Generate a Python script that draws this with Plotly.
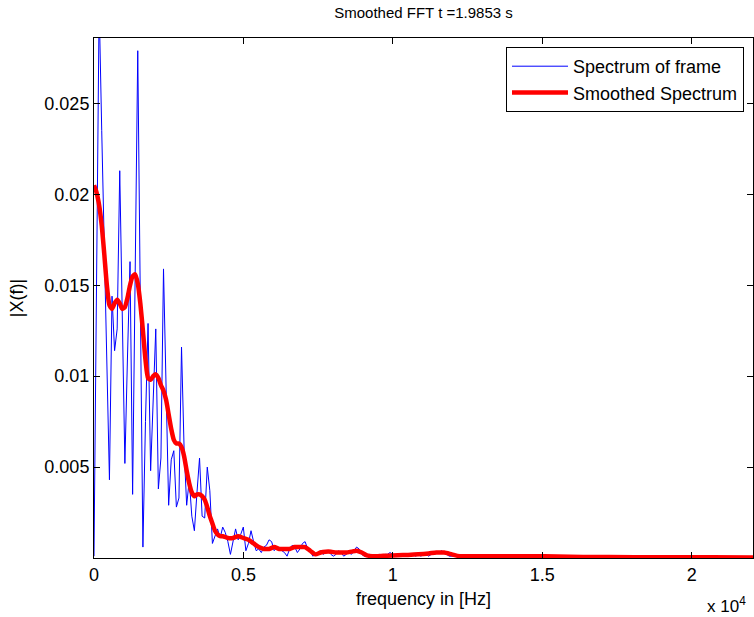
import plotly.graph_objects as go

# ---- data -------------------------------------------------------------
SAMPLE_RATE = 44100
N_FFT = 512

title_text = "Smoothed FFT t =1.9853 s"
series_names = ["Spectrum of frame", "Smoothed Spectrum"]

# |X(f)| of the frame, one value per FFT bin (0 .. 256)
spectrum = [
    0.0001, 0.016, 0.0305, 0.0235, 0.0175, 0.011, 0.0043, 0.0144, 0.0114, 0.0126,
    0.0213, 0.0132, 0.0052, 0.011, 0.0163, 0.0035, 0.0155, 0.0279, 0.014, 0.0006,
    0.0075, 0.0129, 0.0048, 0.009, 0.0126, 0.0038, 0.0055, 0.0159, 0.0085, 0.0029,
    0.0054, 0.0059, 0.0028, 0.0033, 0.0116, 0.006, 0.0029, 0.0043, 0.0023, 0.0015,
    0.0036, 0.0055, 0.0023, 0.0022, 0.005, 0.0037, 0.0008, 0.0012, 0.0016, 0.0011,
    0.0017, 0.0014, 0.0009, 0.0002, 0.0009, 0.0016, 0.001, 0.0013, 0.0017, 0.0004,
    0.0008, 0.0015, 0.0009, 0.0004, 0.0005, 0.0003, 0.0006, 0.0007, 0.001, 0.0009,
    0.0004, 0.0006, 0.0005, 0.0004, 0.0003, 0.0001, 0.0005, 0.0007, 0.0006, 0.0003,
    0.0005, 0.0008, 0.0009, 0.0005, 0.0004, 0.0001, 0.0002, 0.0003, 0.0004, 0.0002,
    0.0003, 0.0004, 0.0002, 0.0001, 0.0002, 0.0004, 0.0003, 0.0001, 0.0002, 0.0003,
    0.0002, 0.0004, 0.0006, 0.0005, 0.0002, 0.0001, 0.0001, 0.0002, 0.0001, 0.0001,
    0.0001, 0.0002, 0.0001, 0.0002, 0.0002, 0.0003, 0.0002, 0.0001, 0.0002, 0.0001,
    0.0002, 0.0001, 0.0002, 0.0001, 0.0002, 0.0001, 0.0002, 0.0001, 0.0002, 0.0002,
    0.0001, 0.0002, 0.0002, 0.0003, 0.0003, 0.0004, 0.0003, 0.0002, 0.0001, 0.0001,
    0.0001, 0.00008, 0.00012, 0.0001, 0.00009, 0.00011, 0.0001, 0.00008, 0.0001, 0.00012,
    0.0001, 0.00009, 0.0001, 0.00011, 0.00008, 0.0001, 0.00009, 0.0001, 0.00008, 0.0001,
    0.00009, 0.0001, 0.00008, 0.00009, 0.0001, 0.00011, 0.0001, 0.00009, 0.00008, 0.0001,
    0.00009, 0.00008, 0.0001, 0.00009, 0.00008, 0.00007, 0.00008, 0.00009, 0.00007, 0.00008,
    0.00007, 0.00008, 0.00006, 0.00007, 0.00008, 0.00006, 0.00007, 0.00006, 0.00007, 0.00006,
    0.00006, 0.00005, 0.00006, 0.00007, 0.00005, 0.00006, 0.00005, 0.00006, 0.00005, 0.00005,
    0.00005, 0.00004, 0.00005, 0.00006, 0.00004, 0.00005, 0.00004, 0.00005, 0.00004, 0.00005,
    0.00004, 0.00005, 0.00004, 0.00004, 0.00005, 0.00004, 0.00004, 0.00005, 0.00004, 0.00004,
    0.00004, 0.00003, 0.00004, 0.00005, 0.00004, 0.00003, 0.00004, 0.00004, 0.00003, 0.00004,
    0.00004, 0.00003, 0.00004, 0.00003, 0.00004, 0.00004, 0.00003, 0.00004, 0.00003, 0.00003,
    0.00004, 0.00003, 0.00003, 0.00004, 0.00003, 0.00003, 0.00004, 0.00003, 0.00003, 0.00003,
    0.00003, 0.00003, 0.00004, 0.00003, 0.00003, 0.00003, 0.00003,
]

# smoothed spectrum, sampled at these FFT bins
smooth_bins = [
    0, 1, 2, 3, 4, 5, 6, 7, 8, 9, 10, 11, 12, 13, 14, 15, 16, 17, 18, 19,
    20, 21, 22, 23, 24, 25, 26, 27, 28, 29, 30, 31, 32, 33, 34, 35, 36, 37, 38, 39,
    40, 41, 42, 43, 44, 45, 46, 47, 48, 49, 50, 52, 54, 56, 58, 60, 62, 64, 66, 68,
    70, 72, 74, 76, 78, 80, 82, 84, 86, 88, 90, 92, 94, 96, 98, 100, 102, 104, 106, 108,
    110, 114, 118, 122, 126, 130, 133, 136, 139, 142, 150, 160, 170, 180, 190, 200, 220, 240, 256,
]
smooth_values = [
    0.0205, 0.0201, 0.0194, 0.0183, 0.0167, 0.0150, 0.0139, 0.0137, 0.0140, 0.0142,
    0.0140, 0.0137, 0.0138, 0.0143, 0.0150, 0.0155, 0.0156, 0.0151, 0.0140, 0.0125,
    0.0109, 0.0099, 0.0098, 0.0100, 0.0101, 0.0099, 0.0095, 0.0092, 0.0087, 0.0079,
    0.0071, 0.0065, 0.0063, 0.0063, 0.0061, 0.0056, 0.0048, 0.0041, 0.0036, 0.0034,
    0.0035, 0.0035, 0.0034, 0.0032, 0.0028, 0.0023, 0.0019, 0.0015, 0.0013, 0.0012,
    0.0012, 0.0011, 0.0011, 0.0012, 0.0011, 0.0010, 0.0008, 0.0006, 0.0005, 0.0005,
    0.0006, 0.0005, 0.0005, 0.0005, 0.0006, 0.0006, 0.0006, 0.0004, 0.0002, 0.0003,
    0.00035, 0.00035, 0.0003, 0.0003, 0.0003, 0.00035, 0.0004, 0.0003, 0.00015, 0.0001,
    0.0001, 0.00013, 0.00015, 0.00017, 0.0002, 0.00025, 0.0003, 0.0003, 0.0002, 0.0001,
    0.0001, 0.00009, 0.0001, 0.00008, 0.00006, 0.00005, 0.00004, 0.00004, 0.00003,
]

x_tick_values = [0, 5000, 10000, 15000, 20000]
x_tick_labels = ["0", "0.5", "1", "1.5", "2"]
y_tick_values = [0.005, 0.01, 0.015, 0.02, 0.025]
y_tick_labels = ["0.005", "0.01", "0.015", "0.02", "0.025"]
x_range = [0, 22050]
y_range = [0, 0.0286]

# ---- figure -----------------------------------------------------------
freq = [k * SAMPLE_RATE / N_FFT for k in range(len(spectrum))]
smooth_freq = [b * SAMPLE_RATE / N_FFT for b in smooth_bins]

FONT = "Liberation Sans, Arial, Helvetica, sans-serif"

fig = go.Figure()
fig.add_trace(go.Scatter(
    x=freq, y=spectrum, mode="lines", name=series_names[0],
    line=dict(color="#0000FF", width=1),
))
fig.add_trace(go.Scatter(
    x=smooth_freq, y=smooth_values, mode="lines", name=series_names[1],
    line=dict(color="#FF0000", width=4.5, shape="spline", smoothing=0.6),
))

W, H = 754, 617
ml, mr, mt, mb = 94, 1, 38, 59

axis_common = dict(
    showline=True, linecolor="black", linewidth=1, mirror="allticks",
    ticks="inside", ticklen=6, tickcolor="black", tickwidth=1,
    showgrid=False, zeroline=False,
    tickfont=dict(family=FONT, size=18, color="black"),
)

fig.update_layout(
    width=W, height=H,
    margin=dict(l=ml, r=mr, t=mt, b=mb, pad=0),
    paper_bgcolor="white", plot_bgcolor="white",
    font=dict(family=FONT, color="black"),
    title=dict(text=title_text, x=0.5 * (ml + W - mr) / W, xanchor="center",
               y=1 - 13 / H, yanchor="middle", yref="container",
               font=dict(family=FONT, size=15, color="black")),
    xaxis=dict(range=x_range, tickvals=x_tick_values, ticktext=x_tick_labels,
               title=dict(text="frequency in [Hz]", standoff=8,
                          font=dict(family=FONT, size=18, color="black")),
               **axis_common),
    yaxis=dict(range=y_range, tickvals=y_tick_values, ticktext=y_tick_labels,
               title=dict(text="|X(f)|", standoff=16,
                          font=dict(family=FONT, size=18, color="black")),
               **axis_common),
    legend=dict(x=(744 - ml) / (W - ml - mr), y=(H - mb - 47) / (H - mt - mb),
                xanchor="right", yanchor="top",
                bordercolor="black", borderwidth=1, bgcolor="white",
                font=dict(family=FONT, size=18, color="black"),
                tracegroupgap=0, itemwidth=56),
    showlegend=True,
)

fig.add_annotation(
    text="x 10<sup>4</sup>", xref="paper", yref="paper",
    x=1.0, y=0, xanchor="right", yanchor="top", yshift=-34, xshift=-5,
    showarrow=False, font=dict(family=FONT, size=17, color="black"),
)

fig.write_html("out.html")
